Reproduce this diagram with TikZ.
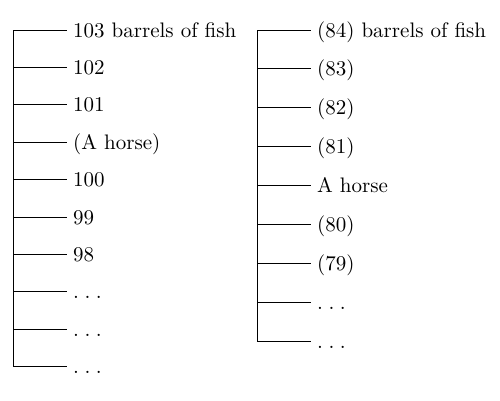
\documentclass[tikz,border=0pt]{standalone}
\usepackage{fontspec}
\setmainfont{lmroman10-regular.otf}
\newcommand\sdots{.\kern5.5pt.\kern5.5pt.}
\begin{document}
\begin{tikzpicture}[x=1pt,y=-1pt,
  branch/.style={line width=1pt,line cap=rect},
  lbl/.style={anchor=base west,inner sep=0pt,font=\fontsize{21}{25}\selectfont}]
\useasboundingbox (0,0) rectangle (500,400);
% left tree
\foreach \t [count=\i from 0] in {103 barrels of fish,102,101,(A horse),100,99,98,\sdots,\sdots,\sdots}{
  \pgfmathsetmacro\yy{30+37.4*\i}
  \coordinate (a\i) at (13,\yy);
  \node[lbl] (l\i) at (73,\yy+7) {\t};
  \draw[branch] (a\i) -- ([xshift=-7pt]l\i.base west |- a\i);
}
\draw[branch] (a0) -- (a9);
% right tree
\foreach \t [count=\i from 0] in {(84) barrels of fish,(83),(82),(81),A horse,(80),(79),\sdots,\sdots}{
  \pgfmathsetmacro\yy{30+38.9*\i}
  \coordinate (b\i) at (257,\yy);
  \node[lbl] (r\i) at (317,\yy+7) {\t};
  \draw[branch] (b\i) -- ([xshift=-7pt]r\i.base west |- b\i);
}
\draw[branch] (b0) -- (b8);
\end{tikzpicture}
\end{document}
